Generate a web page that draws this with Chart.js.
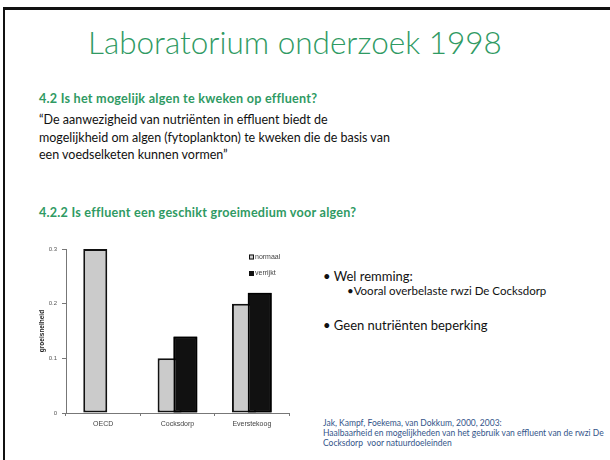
<!DOCTYPE html>
<html>
<head>
<meta charset="utf-8">
<script src="https://cdn.jsdelivr.net/npm/chart.js@4"></script>
<style>
  html, body { margin: 0; padding: 0; background: #fff; }
  #slide { position: relative; width: 610px; height: 460px; overflow: hidden; font-family: Lato, "Open Sans", sans-serif; }
  .bar-top { position: absolute; left: 3px; top: 7px; width: 607px; height: 3px; background: #111; }
  .bar-left { position: absolute; left: 3px; top: 7px; width: 2px; height: 453px; background: #111; }
  .txt { position: absolute; white-space: nowrap; line-height: 1.2; }
  #title { left: 88px; top: 24px; font-size: 31.5px; font-weight: 300; color: #2f9a63; }
  .head { left: 39px; font-size: 12.6px; letter-spacing: 0.25px; font-weight: bold; color: #2f9a63; }
  #quote { left: 39px; top: 111px; font-size: 12.5px; color: #111; line-height: 17.5px; }
  .bul { left: 323px; font-size: 13px; color: #111; }
  #cite { left: 323px; top: 418px; font-size: 8.5px; color: #34558a; line-height: 10px; }
  #chartBox { position: absolute; left: 20px; top: 236px; width: 300px; height: 200px; }
</style>
</head>
<body>
<div id="slide">
  <div class="bar-top"></div>
  <div class="bar-left"></div>
  <div id="title" class="txt">Laboratorium onderzoek 1998</div>
  <div class="txt head" style="top: 91px;">4.2 Is het mogelijk algen te kweken op effluent?</div>
  <div id="quote" class="txt">“De aanwezigheid van nutriënten in effluent biedt de<br>mogelijkheid om algen (fytoplankton) te kweken die de basis van<br>een voedselketen kunnen vormen”</div>
  <div class="txt head" style="top: 205px;">4.2.2 Is effluent een geschikt groeimedium voor algen?</div>
  <div class="txt bul" style="top: 269px;">• Wel remming:</div>
  <div class="txt bul" style="top: 284px; left: 347px; font-size: 11.5px;">•Vooral overbelaste rwzi De Cocksdorp</div>
  <div class="txt bul" style="top: 318px;">• Geen nutriënten beperking</div>
  <div id="cite" class="txt">Jak, Kampf, Foekema, van Dokkum, 2000, 2003:<br>Haalbaarheid en mogelijkheden van het gebruik van effluent van de rwzi De<br>Cocksdorp&nbsp; voor natuurdoeleinden</div>
  <div id="chartBox"><canvas id="groeiChart" width="300" height="200"></canvas></div>
</div>

<script>
// data
const locaties = ['OECD', 'Cocksdorp', 'Everstekoog'];
const normaal = [0.30, 0.10, 0.20];
const verrijkt = [null, 0.14, 0.22];
const yTicks = [0, 0.1, 0.2, 0.3];

// small legend drawn inside the plot area, top right
const innerLegend = {
  id: 'innerLegend',
  afterDraw(chart) {
    const ctx = chart.ctx;
    const area = chart.chartArea;
    ctx.save();
    ctx.font = '7px "Liberation Sans", Arial, sans-serif';
    ctx.textBaseline = 'middle';
    chart.data.datasets.forEach(function (ds, i) {
      const x = area.right - 40;
      const y = area.top + 8 + i * 16.5;
      ctx.fillStyle = ds.backgroundColor;
      ctx.fillRect(x, y - 2.5, 5, 5);
      ctx.strokeStyle = '#111';
      ctx.lineWidth = 1;
      ctx.strokeRect(x + 0.5, y - 2, 4, 4);
      ctx.fillStyle = '#444';
      ctx.fillText(ds.label, x + 6, y);
    });
    ctx.restore();
  }
};

// the enriched bars overlap the normal ones, so draw them last
const verrijktOnTop = {
  id: 'verrijktOnTop',
  afterDatasetsDraw(chart) {
    chart.getDatasetMeta(1).controller.draw();
  }
};

const ctx = document.getElementById('groeiChart').getContext('2d');
const groeiChart = new Chart(ctx, {
  type: 'bar',
  data: {
    labels: locaties,
    datasets: [
      {
        label: 'normaal',
        data: normaal,
        backgroundColor: '#cbcbcb',
        borderColor: '#111',
        borderWidth: 2,
        borderSkipped: false
      },
      {
        label: 'verrijkt',
        data: verrijkt,
        backgroundColor: '#111',
        borderColor: '#000',
        borderWidth: 2,
        borderSkipped: false
      }
    ]
  },
  options: {
    responsive: false,
    animation: false,
    categoryPercentage: 0.425,
    barPercentage: 1.52,
    layout: { padding: { top: 13, right: 31, left: 18, bottom: 0 } },
    scales: {
      x: {
        offset: true,
        grid: { offset: true, drawOnChartArea: false, color: '#777', tickLength: 3 },
        border: { color: '#777' },
        ticks: { color: '#444', padding: 4, font: { family: 'Liberation Sans', size: 7 } },
        afterFit: function (scale) { scale.height = 23; }
      },
      y: {
        min: 0,
        max: 0.3,
        afterBuildTicks: function (scale) {
          scale.ticks = yTicks.map(function (v) { return { value: v }; });
        },
        grid: { drawOnChartArea: false, color: '#777', tickLength: 4 },
        border: { color: '#777' },
        ticks: {
          color: '#555',
          padding: 5,
          font: { family: 'Liberation Sans', size: 6 },
          callback: function (v) { return v === 0 ? '0' : v.toFixed(1); }
        },
        title: {
          display: true,
          text: 'groeisnelheid',
          color: '#222',
          padding: 0,
          font: { family: 'Liberation Sans', size: 6.5, weight: 'bold' }
        },
        afterFit: function (scale) { scale.width = 28; }
      }
    },
    plugins: {
      legend: { display: false },
      tooltip: { enabled: false }
    }
  },
  plugins: [innerLegend, verrijktOnTop]
});
</script>
</body>
</html>
